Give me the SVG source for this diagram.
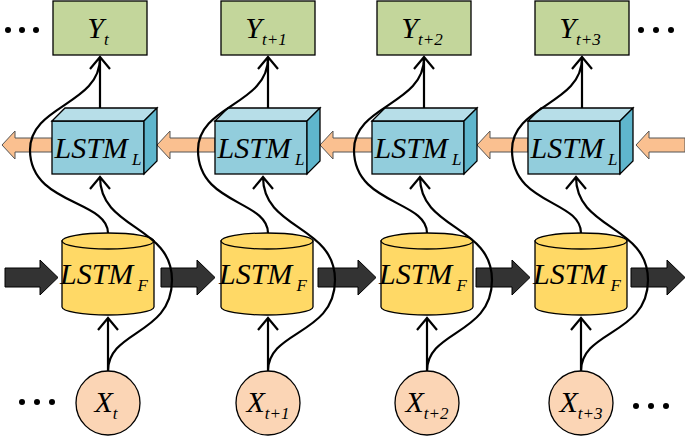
<svg xmlns="http://www.w3.org/2000/svg" width="685" height="437" viewBox="0 0 685 437">
<defs>
<style>
.s{stroke:#000;stroke-width:1.3}
.y{fill:#c3d69b}
.lf{fill:#92cddc}.lt{fill:#b7dee8}.ls{fill:#5fb6cd}
.cy{fill:#ffd966}
.ci{fill:#fbd5b5}
.da{fill:#333;stroke:#000;stroke-width:1}
.oa{fill:#fac090;stroke:#555;stroke-width:1}
.w{fill:none;stroke:#000;stroke-width:2.2}
.t{font-style:italic;fill:#000}
.dot{fill:#000}
</style>
</defs>
<g id="dots">
<circle class="dot" cx="8" cy="30" r="3"/><circle class="dot" cx="22" cy="30" r="3"/><circle class="dot" cx="36" cy="30" r="3"/>
<circle class="dot" cx="22" cy="402" r="3"/><circle class="dot" cx="37" cy="402" r="3"/><circle class="dot" cx="52" cy="402" r="3"/>
<circle class="dot" cx="641" cy="30" r="3"/><circle class="dot" cx="656" cy="30" r="3"/><circle class="dot" cx="671" cy="30" r="3"/>
<circle class="dot" cx="636" cy="406" r="3"/><circle class="dot" cx="651" cy="406" r="3"/><circle class="dot" cx="666" cy="406" r="3"/>
</g>
<g id="forward-arrows">
<polygon class="da" points="5,268 40,268 40,260 58,277.5 40,295 40,287 5,287"/>
<polygon class="da" points="161,268 197,268 197,260 215,277.5 197,295 197,287 161,287"/>
<polygon class="da" points="318,268 358,268 358,260 376,277.5 358,295 358,287 318,287"/>
<polygon class="da" points="476,268 512,268 512,260 530,277.5 512,295 512,287 476,287"/>
<polygon class="da" points="631,268 667,268 667,260 685,277.5 667,295 667,287 631,287"/>
</g>
<g id="backward-arrows">
<polygon class="oa" points="52,138 15,138 15,131 2,145 15,159 15,152 52,152"/>
<polygon class="oa" points="215,138 170,138 170,131 157,145 170,159 170,152 215,152"/>
<polygon class="oa" points="372,138 333,138 333,131 320,145 333,159 333,152 372,152"/>
<polygon class="oa" points="528,138 490,138 490,131 477,145 490,159 490,152 528,152"/>
<polygon class="oa" points="685,138 649,138 649,131 636,145 649,159 649,152 685,152"/>
</g>
<g font-family="Liberation Serif, Times New Roman, serif">
<g id="col0">
<g id="Y0" transform="translate(100,0)"><rect class="y s" x="-47" y="1" width="94" height="54"/><text class="t" x="-2" y="38" font-size="30" text-anchor="middle">Y<tspan font-size="17" dy="7">t</tspan></text></g>
<g id="L0" transform="translate(100,0)"><rect class="lf s" x="-48" y="121" width="92" height="53"/><polygon class="lt s" points="-48,121 -35,108 57,108 44,121"/><polygon class="ls s" points="44,121 57,108 57,161 44,174"/><text class="t" x="-2" y="158" font-size="30" text-anchor="middle">LSTM<tspan font-size="17" dy="7"> L</tspan></text></g>
<g id="F0" transform="translate(108,0)"><path class="cy s" d="M-46,241 v66 a46,8 0 0 0 92,0 v-66 z"/><ellipse class="cy s" cx="0" cy="241" rx="46" ry="8"/><text class="t" x="-4" y="284" font-size="30" text-anchor="middle">LSTM<tspan font-size="17" dy="7"> F</tspan></text></g>
<g id="X0" transform="translate(108,0)"><circle class="ci s" cx="0" cy="403" r="32"/><text class="t" x="-2" y="412" font-size="30" text-anchor="middle">X<tspan font-size="17" dy="7">t</tspan></text></g>
</g>
<g id="col1">
<g id="Y1" transform="translate(268,0)"><rect class="y s" x="-47" y="1" width="94" height="54"/><text class="t" x="-2" y="38" font-size="30" text-anchor="middle">Y<tspan font-size="17" dy="7">t+1</tspan></text></g>
<g id="L1" transform="translate(268,0)"><rect class="lf s" x="-53" y="121" width="92" height="53"/><polygon class="lt s" points="-53,121 -40,108 52,108 39,121"/><polygon class="ls s" points="39,121 52,108 52,161 39,174"/><text class="t" x="-7" y="158" font-size="30" text-anchor="middle">LSTM<tspan font-size="17" dy="7"> L</tspan></text></g>
<g id="F1" transform="translate(267,0)"><path class="cy s" d="M-46,241 v66 a46,8 0 0 0 92,0 v-66 z"/><ellipse class="cy s" cx="0" cy="241" rx="46" ry="8"/><text class="t" x="-4" y="284" font-size="30" text-anchor="middle">LSTM<tspan font-size="17" dy="7"> F</tspan></text></g>
<g id="X1" transform="translate(268,0)"><circle class="ci s" cx="0" cy="403" r="32"/><text class="t" x="0" y="412" font-size="30" text-anchor="middle">X<tspan font-size="17" dy="7">t+1</tspan></text></g>
</g>
<g id="col2">
<g id="Y2" transform="translate(424,0)"><rect class="y s" x="-47" y="1" width="94" height="54"/><text class="t" x="-2" y="38" font-size="30" text-anchor="middle">Y<tspan font-size="17" dy="7">t+2</tspan></text></g>
<g id="L2" transform="translate(424,0)"><rect class="lf s" x="-52" y="121" width="92" height="53"/><polygon class="lt s" points="-52,121 -39,108 53,108 40,121"/><polygon class="ls s" points="40,121 53,108 53,161 40,174"/><text class="t" x="-6" y="158" font-size="30" text-anchor="middle">LSTM<tspan font-size="17" dy="7"> L</tspan></text></g>
<g id="F2" transform="translate(427,0)"><path class="cy s" d="M-46,241 v66 a46,8 0 0 0 92,0 v-66 z"/><ellipse class="cy s" cx="0" cy="241" rx="46" ry="8"/><text class="t" x="-4" y="284" font-size="30" text-anchor="middle">LSTM<tspan font-size="17" dy="7"> F</tspan></text></g>
<g id="X2" transform="translate(427,0)"><circle class="ci s" cx="0" cy="403" r="32"/><text class="t" x="0" y="412" font-size="30" text-anchor="middle">X<tspan font-size="17" dy="7">t+2</tspan></text></g>
</g>
<g id="col3">
<g id="Y3" transform="translate(582,0)"><rect class="y s" x="-47" y="1" width="94" height="54"/><text class="t" x="-2" y="38" font-size="30" text-anchor="middle">Y<tspan font-size="17" dy="7">t+3</tspan></text></g>
<g id="L3" transform="translate(582,0)"><rect class="lf s" x="-54" y="121" width="92" height="53"/><polygon class="lt s" points="-54,121 -41,108 51,108 38,121"/><polygon class="ls s" points="38,121 51,108 51,161 38,174"/><text class="t" x="-8" y="158" font-size="30" text-anchor="middle">LSTM<tspan font-size="17" dy="7"> L</tspan></text></g>
<g id="F3" transform="translate(581,0)"><path class="cy s" d="M-46,241 v66 a46,8 0 0 0 92,0 v-66 z"/><ellipse class="cy s" cx="0" cy="241" rx="46" ry="8"/><text class="t" x="-4" y="284" font-size="30" text-anchor="middle">LSTM<tspan font-size="17" dy="7"> F</tspan></text></g>
<g id="X3" transform="translate(581,0)"><circle class="ci s" cx="0" cy="403" r="32"/><text class="t" x="0" y="412" font-size="30" text-anchor="middle">X<tspan font-size="17" dy="7">t+3</tspan></text></g>
</g>
</g>
<g id="connectors" class="w">
<g transform="translate(100,0)"><path d="M0,108 V57 M-10,69 L0,57 L10,69 M8,233 C8,200 -70,205 -70,150 C-70,105 0,105 0,58 M0,177 C0,230 72,225 72,280 C72,335 8,330 8,371 M-10,189 L0,177 L10,189"/></g>
<g transform="translate(108,0)"><path d="M0,371 V318 M-10,330 L0,318 L10,330"/></g>
<g transform="translate(268,0)"><path d="M0,108 V57 M-10,69 L0,57 L10,69 M0,233 C0,200 -70,205 -70,150 C-70,105 0,105 0,58 M-5,177 C-5,230 67,225 67,280 C67,335 0,330 0,371 M-15,189 L-5,177 L5,189 M0,371 V318 M-10,330 L0,318 L10,330"/></g>
<g transform="translate(424,0)"><path d="M0,108 V57 M-10,69 L0,57 L10,69 M3,233 C3,200 -70,205 -70,150 C-70,105 0,105 0,58 M-4,177 C-4,230 68,225 68,280 C68,335 3,330 3,371 M-14,189 L-4,177 L6,189"/></g>
<g transform="translate(427,0)"><path d="M0,371 V318 M-10,330 L0,318 L10,330"/></g>
<g transform="translate(582,0)"><path d="M0,108 V57 M-10,69 L0,57 L10,69 M-1,233 C-1,200 -70,205 -70,150 C-70,105 0,105 0,58 M-6,177 C-6,230 66,225 66,280 C66,335 -1,330 -1,371 M-16,189 L-6,177 L4,189"/></g>
<g transform="translate(581,0)"><path d="M0,371 V318 M-10,330 L0,318 L10,330"/></g>
</g>
</svg>
